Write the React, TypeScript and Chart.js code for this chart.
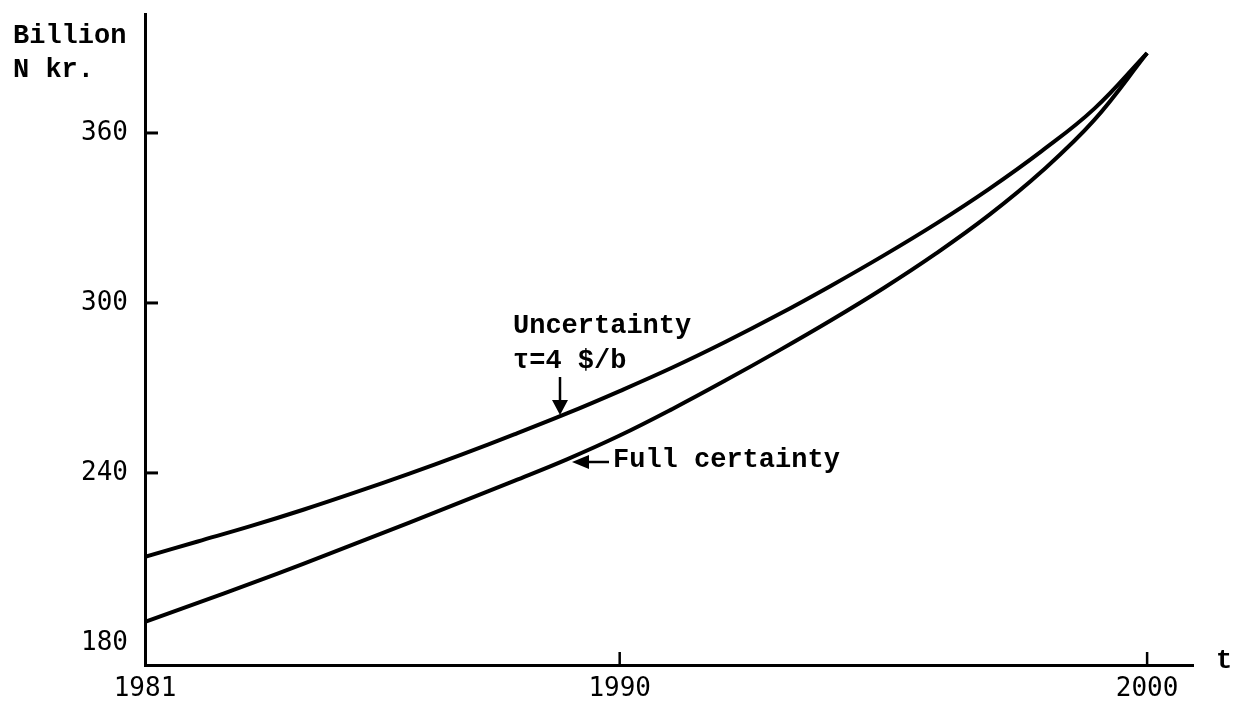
import { useEffect, useRef } from 'react';
import { Chart, registerables } from 'chart.js';

Chart.register(...registerables);

// ---- data ----
const years = [1981, 1982, 1983, 1984, 1985, 1986, 1987, 1988, 1989, 1990, 1991, 1992, 1993, 1994, 1995, 1996, 1997, 1998, 1999, 2000];
const uncertainty = [210.4, 215.8, 221.2, 227.0, 233.2, 239.7, 246.5, 253.6, 261.0, 268.9, 277.2, 286.2, 295.8, 306.0, 316.7, 328.0, 340.2, 353.6, 368.6, 388.2];
const fullCertainty = [187.4, 194.1, 200.9, 207.9, 215.1, 222.4, 229.8, 237.2, 244.8, 253.2, 262.6, 272.6, 283.0, 293.8, 305.2, 317.5, 331.0, 346.4, 364.6, 388.2];
const xTickYears = [1981, 1990, 2000];
const yTickValues = [180, 240, 300, 360];

const TEXT_FONT = 'bold 27px "Liberation Mono", "DejaVu Sans Mono", monospace';
const NUM_FAMILY = '"DejaVu Sans Mono", "Liberation Mono", monospace';

function arrowHead(ctx: CanvasRenderingContext2D, tipX: number, tipY: number, dir: 'down' | 'left') {
  ctx.beginPath();
  if (dir === 'down') {
    ctx.moveTo(tipX, tipY);
    ctx.lineTo(tipX - 8, tipY - 15);
    ctx.lineTo(tipX + 8, tipY - 15);
  } else {
    ctx.moveTo(tipX, tipY);
    ctx.lineTo(tipX + 17, tipY - 7);
    ctx.lineTo(tipX + 17, tipY + 7);
  }
  ctx.closePath();
  ctx.fill();
}

const annotationPlugin = {
  id: 'annotations',
  afterDraw(chart: any) {
    const ctx: CanvasRenderingContext2D = chart.ctx;
    const xs = chart.scales.x;
    const ys = chart.scales.y;
    const area = chart.chartArea;
    ctx.save();
    ctx.strokeStyle = '#000';
    ctx.fillStyle = '#000';
    ctx.lineCap = 'butt';

    // inward tick marks on the y axis
    ctx.lineWidth = 3;
    yTickValues.forEach((v) => {
      if (v === 180) return;
      const py = ys.getPixelForValue(v);
      ctx.beginPath();
      ctx.moveTo(area.left, py);
      ctx.lineTo(area.left + 13, py);
      ctx.stroke();
    });
    // inward tick marks on the x axis
    ctx.lineWidth = 2.5;
    xTickYears.forEach((v) => {
      if (v === 1981) return;
      const px = xs.getPixelForValue(v);
      ctx.beginPath();
      ctx.moveTo(px, area.bottom);
      ctx.lineTo(px, area.bottom - 13);
      ctx.stroke();
    });

    // axis titles
    ctx.font = TEXT_FONT;
    ctx.textAlign = 'left';
    ctx.textBaseline = 'alphabetic';
    ctx.fillText('Billion', 13, 43);
    ctx.fillText('N kr.', 13, 77);
    ctx.fillText('t', 1216, 668);

    // curve labels
    ctx.fillText('Uncertainty', 513, 333);
    ctx.fillText('\u03C4=4 $/b', 513, 368);
    ctx.fillText('Full certainty', 613, 467);

    // arrows
    ctx.lineWidth = 2.5;
    ctx.beginPath();
    ctx.moveTo(560, 377);
    ctx.lineTo(560, 402);
    ctx.stroke();
    arrowHead(ctx, 560, 415, 'down');

    ctx.beginPath();
    ctx.moveTo(586, 462);
    ctx.lineTo(609, 462);
    ctx.stroke();
    arrowHead(ctx, 572, 462, 'left');

    ctx.restore();
  },
};

export default function App() {
  const canvasRef = useRef<HTMLCanvasElement | null>(null);

  useEffect(() => {
    document.body.style.margin = '0';
    document.body.style.background = '#fff';
    const canvas = canvasRef.current;
    if (!canvas) return;
    const chart = new Chart(canvas, {
      type: 'line',
      data: {
        datasets: [
          {
            label: 'Uncertainty τ=4 $/b',
            data: years.map((yr, i) => ({ x: yr, y: uncertainty[i] })),
            borderColor: '#000',
            borderWidth: 4,
            pointRadius: 0,
            tension: 0.4,
            fill: false,
          },
          {
            label: 'Full certainty',
            data: years.map((yr, i) => ({ x: yr, y: fullCertainty[i] })),
            borderColor: '#000',
            borderWidth: 4,
            pointRadius: 0,
            tension: 0.4,
            fill: false,
          },
        ],
      },
      options: {
        responsive: false,
        animation: false,
        devicePixelRatio: 1,
        layout: { padding: { top: 14, right: 40, left: 0, bottom: 0 } },
        plugins: {
          legend: { display: false },
          tooltip: { enabled: false },
        },
        scales: {
          x: {
            type: 'linear',
            min: 1981,
            max: 2000.87,
            afterBuildTicks: (scale: any) => {
              scale.ticks = xTickYears.map((v) => ({ value: v }));
            },
            afterFit: (scale: any) => {
              scale.height = 36;
              scale.paddingLeft = 0;
              scale.paddingRight = 0;
            },
            ticks: {
              autoSkip: false,
              maxRotation: 0,
              padding: 9,
              color: '#000',
              font: { family: NUM_FAMILY, size: 26 },
              callback: (v: any) => String(v),
            },
            grid: { display: false, drawTicks: false },
            border: { display: true, color: '#000', width: 3 },
          },
          y: {
            type: 'linear',
            min: 172.2,
            max: 402,
            afterBuildTicks: (scale: any) => {
              scale.ticks = yTickValues.map((v) => ({ value: v }));
            },
            afterFit: (scale: any) => {
              scale.width = 145;
              scale.paddingTop = 0;
              scale.paddingBottom = 0;
            },
            ticks: {
              autoSkip: false,
              padding: 17,
              color: '#000',
              font: { family: NUM_FAMILY, size: 26 },
              callback: (v: any) => String(v),
            },
            grid: { display: false, drawTicks: false },
            border: { display: true, color: '#000', width: 3 },
          },
        },
      },
      plugins: [annotationPlugin],
    } as any);
    return () => chart.destroy();
  }, []);

  return (
    <div style={{ width: 1233, height: 701 }}>
      <canvas ref={canvasRef} width={1233} height={701} style={{ display: 'block' }} />
    </div>
  );
}
